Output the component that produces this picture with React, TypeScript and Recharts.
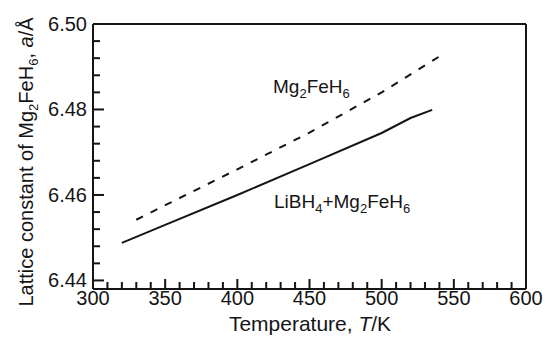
import { LineChart, Line, XAxis, YAxis, ReferenceLine } from "recharts";

const solidT = [320, 350, 400, 450, 500, 520, 535];
const solidA = [6.4488, 6.453, 6.46, 6.4672, 6.4745, 6.478, 6.4799];
const dashedT = [330, 350, 400, 450, 500, 540];
const dashedA = [6.4542, 6.4576, 6.466, 6.4746, 6.484, 6.4924];

const xMajor = [300, 350, 400, 450, 500, 550, 600];
const yMajor = [6.44, 6.46, 6.48, 6.5];

const xAll: number[] = [];
for (let t = 300; t <= 600; t += 10) xAll.push(t);
const yAll: number[] = [];
for (let i = 0; i <= 15; i++) yAll.push(Number((6.44 + i * 0.004).toFixed(3)));

const solidData = solidT.map((T, i) => ({ T, a: solidA[i] }));
const dashedData = dashedT.map((T, i) => ({ T, a: dashedA[i] }));

const INK = "#151515";
const FONT = "'Liberation Sans', Arial, Helvetica, sans-serif";

const isMajorY = (v: number) => yMajor.some((m) => Math.abs(m - v) < 1e-6);

// ticks point into the plot, labels only on the major ones
const XTick = (props: any) => {
  const { x, y, payload } = props;
  const v = Number(payload.value);
  const major = xMajor.includes(v);
  return (
    <g>
      <path d={`M${x},${y}v${major ? -10 : -7}`} stroke={INK} strokeWidth={2} fill="none" />
      {major && (
        <text x={x} y={y + 16} textAnchor="middle" fontSize={20} fontFamily={FONT} fill={INK}>
          {v}
        </text>
      )}
    </g>
  );
};

const YTick = (props: any) => {
  const { x, y, payload } = props;
  const v = Number(payload.value);
  const major = isMajorY(v);
  return (
    <g>
      <path d={`M${x},${y}h${major ? 11 : 7}`} stroke={INK} strokeWidth={2} fill="none" />
      {major && (
        <text x={x - 6} y={y + 7} textAnchor="end" fontSize={20} fontFamily={FONT} fill={INK}>
          {v.toFixed(2)}
        </text>
      )}
    </g>
  );
};

const XTitle = () => (
  <text x={310} y={331} fontSize={21} textAnchor="middle" fontFamily={FONT} fill={INK}>
    <tspan>Temperature, </tspan>
    <tspan fontStyle="italic">T</tspan>
    <tspan>/K</tspan>
  </text>
);

// y title plus the two curve annotations
const YTitle = () => (
  <g fontFamily={FONT} fill={INK}>
    <text transform="translate(33,162) rotate(-90)" fontSize={20} textAnchor="middle">
      <tspan>Lattice constant of Mg</tspan>
      <tspan dy={5} fontSize={13}>2</tspan>
      <tspan dy={-5}>FeH</tspan>
      <tspan dy={5} fontSize={13}>6</tspan>
      <tspan dy={-5}>, </tspan>
      <tspan fontStyle="italic">a</tspan>
      <tspan>/Å</tspan>
    </text>
    <text x={273} y={93} fontSize={19}>
      <tspan>Mg</tspan>
      <tspan dy={5} fontSize={13}>2</tspan>
      <tspan dy={-5}>FeH</tspan>
      <tspan dy={5} fontSize={13}>6</tspan>
    </text>
    <text x={274} y={208} fontSize={19}>
      <tspan>LiBH</tspan>
      <tspan dy={5} fontSize={13}>4</tspan>
      <tspan dy={-5}>+Mg</tspan>
      <tspan dy={5} fontSize={13}>2</tspan>
      <tspan dy={-5}>FeH</tspan>
      <tspan dy={5} fontSize={13}>6</tspan>
    </text>
  </g>
);

export default function App() {
  return (
    <div style={{ position: "absolute", left: 0, top: 0, width: 545, height: 342, background: "#fff" }}>
      <LineChart width={545} height={342} margin={{ top: 24, right: 19, left: 0, bottom: 0 }}>
        <XAxis
          type="number"
          dataKey="T"
          domain={[300, 600]}
          ticks={xAll}
          interval={0}
          allowDataOverflow
          height={53}
          tickSize={0}
          tickMargin={0}
          tickLine={false}
          axisLine={{ stroke: INK, strokeWidth: 2 }}
          tick={<XTick />}
          label={<XTitle />}
        />
        <YAxis
          type="number"
          dataKey="a"
          domain={[6.438, 6.5]}
          ticks={yAll}
          interval={0}
          allowDataOverflow
          width={93}
          tickSize={0}
          tickMargin={0}
          tickLine={false}
          axisLine={{ stroke: INK, strokeWidth: 2 }}
          tick={<YTick />}
          label={<YTitle />}
        />
        <ReferenceLine y={6.5} stroke={INK} strokeWidth={2} />
        <ReferenceLine x={600} stroke={INK} strokeWidth={2} />
        <Line
          data={dashedData}
          dataKey="a"
          type="linear"
          stroke={INK}
          strokeWidth={2}
          strokeDasharray="7.5 8.5"
          dot={false}
          isAnimationActive={false}
        />
        <Line
          data={solidData}
          dataKey="a"
          type="linear"
          stroke={INK}
          strokeWidth={2}
          dot={false}
          isAnimationActive={false}
        />
      </LineChart>
    </div>
  );
}
